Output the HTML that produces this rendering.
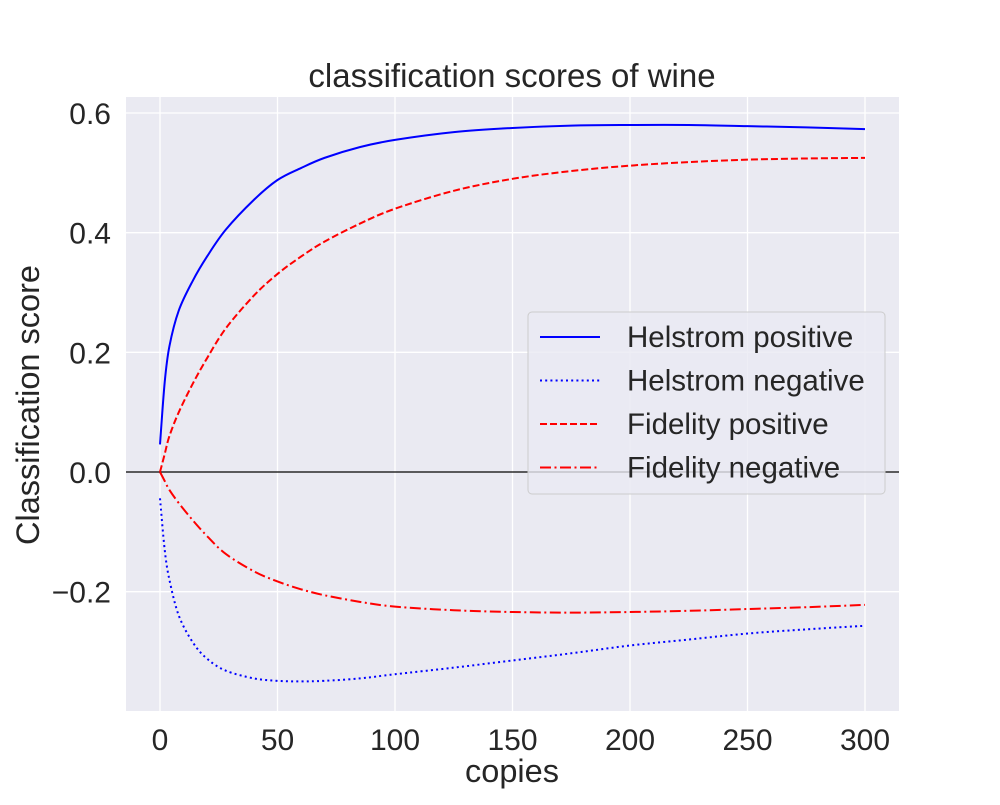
<!DOCTYPE html>
<html><head><meta charset="utf-8"><style>
body{margin:0;background:#fff;}
svg text{font-family:"Liberation Sans",Arial,sans-serif;fill:#262626;}
</style></head><body>
<svg id="chart" width="1000" height="800" viewBox="0 0 1000 800">
<rect x="126" y="97" width="773" height="614" fill="#eaeaf2"/>
<g id="grid"></g>
<g id="series"></g>
<g id="ticks"></g>
<text x="512" y="87" font-size="33" text-anchor="middle">classification scores of wine</text>
<text x="512" y="782" font-size="32.5" text-anchor="middle">copies</text>
<text transform="translate(39,405) rotate(-90)" font-size="32.5" text-anchor="middle">Classification score</text>
<g>
<rect x="528" y="312" width="357" height="182" rx="4" fill="#eaeaf2" stroke="#cccccc" stroke-width="1" fill-opacity="0.8"/>
<g id="legend"></g>
</g>
</svg>
<script>
const xs = [0,2,4,8,14,20,28,40,50,60,70,85,100,125,150,175,200,225,250,275,300];
const helstromPos = [.046,.15,.21,.27,.32,.36,.405,.455,.488,.508,.525,.543,.555,.568,.575,.579,.58,.58,.578,.576,.573];
const helstromNeg = [-.044,-.13,-.18,-.24,-.285,-.312,-.332,-.345,-.349,-.35,-.349,-.345,-.338,-.327,-.315,-.303,-.29,-.28,-.27,-.263,-.257];
const fidelityPos = [0,.03,.06,.1,.148,.19,.24,.295,.331,.36,.385,.415,.44,.47,.49,.503,.512,.518,.522,.524,.525];
const fidelityNeg = [0,-.015,-.03,-.052,-.081,-.107,-.137,-.166,-.183,-.196,-.206,-.217,-.225,-.231,-.234,-.235,-.234,-.232,-.229,-.226,-.222];
const xTicks = [0,50,100,150,200,250,300];
const yTicks = [0.6,0.4,0.2,0.0,-0.2];
const yTickLabels = ["0.6","0.4","0.2","0.0","\u22120.2"];
const seriesNames = ["Helstrom positive","Helstrom negative","Fidelity positive","Fidelity negative"];

const NS="http://www.w3.org/2000/svg";
function X(v){return 160+v*(865-160)/300;}
function Y(v){return 472-v*(472-113)/0.6;}
function mk(tag,attrs,parent){const e=document.createElementNS(NS,tag);for(const k in attrs)e.setAttribute(k,attrs[k]);parent.appendChild(e);return e;}
const grid=document.getElementById('grid'),ticks=document.getElementById('ticks'),ser=document.getElementById('series'),leg=document.getElementById('legend');
xTicks.forEach(t=>{
  const l=mk('line',{x1:X(t),x2:X(t),y1:97,y2:711,stroke:'#fff','stroke-width':1.3},grid);
  
  
  const tx=mk('text',{x:X(t),y:750,'font-size':30,'text-anchor':'middle'},ticks);tx.textContent=t;
  
  
});
yTicks.forEach((t,i)=>{
  const l=mk('line',{x1:126,x2:899,y1:Y(t),y2:Y(t),stroke:'#fff','stroke-width':1.3},grid);
  
  
  const tx=mk('text',{x:111,y:Y(t)+11,'font-size':30,'text-anchor':'end'},ticks);tx.textContent=yTickLabels[i];
  
  
});
const zl=mk('line',{x1:126,x2:899,y1:Y(0),y2:Y(0),stroke:'#000','stroke-width':1.2},ser);


function pathD(vals){
  const p=xs.map((x,i)=>[X(x),Y(vals[i])]);
  let d='M'+p[0][0]+','+p[0][1];
  for(let i=0;i<p.length-1;i++){
    const p0=p[i-1]||p[i],p1=p[i],p2=p[i+1],p3=p[i+2]||p2;
    const c1=[p1[0]+(p2[0]-p0[0])/6,p1[1]+(p2[1]-p0[1])/6];
    const c2=[p2[0]-(p3[0]-p1[0])/6,p2[1]-(p3[1]-p1[1])/6];
    d+=' C'+c1+' '+c2+' '+p2;
  }
  return d;
}
const styles=[
 {v:helstromPos,c:'#0000ff',dash:'',n:'helstrom-positive-line'},
 {v:helstromNeg,c:'#0000ff',dash:'2,3.2',n:'helstrom-negative-line'},
 {v:fidelityPos,c:'#ff0000',dash:'7,3',n:'fidelity-positive-line'},
 {v:fidelityNeg,c:'#ff0000',dash:'11,3.5,2,3.5',n:'fidelity-negative-line'}];
styles.forEach((s,i)=>{
  const p=mk('path',{d:pathD(s.v),fill:'none',stroke:s.c,'stroke-width':2,'stroke-dasharray':s.dash},ser);
  
  
  const y=337+i*43.5;
  const l=mk('line',{x1:540,x2:600,y1:y,y2:y,stroke:s.c,'stroke-width':2,'stroke-dasharray':s.dash},leg);
  
  
  const t=mk('text',{x:627,y:y+10,'font-size':29.5},leg);t.textContent=seriesNames[i];
  
  
});
</script>
</body></html>
